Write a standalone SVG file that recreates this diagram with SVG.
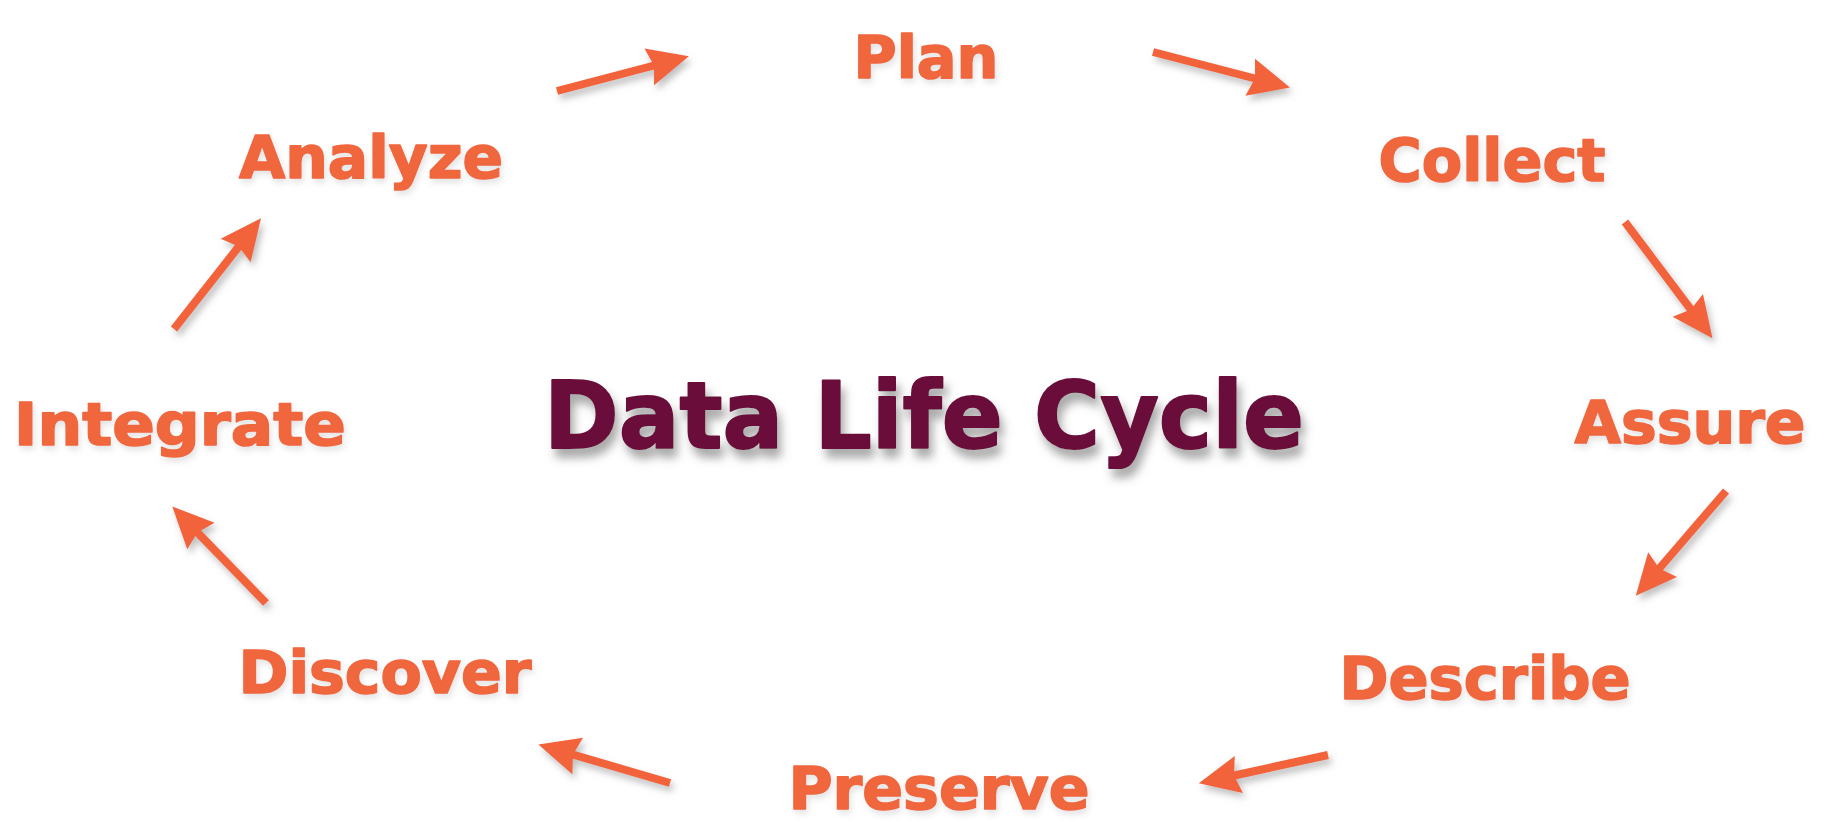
<svg xmlns="http://www.w3.org/2000/svg" width="1826" height="822" viewBox="0 0 1826 822">
  <style>
    .lbl { font-family: "DejaVu Sans", Verdana, sans-serif; font-weight: bold; font-size: 58px; fill: #f0663c; stroke: #f0663c; stroke-width: 1.6; stroke-linejoin: round; text-anchor: middle; }
    .title { font-family: "DejaVu Sans", Verdana, sans-serif; font-weight: bold; font-size: 92px; fill: #6a0b3a; stroke: #6a0b3a; stroke-width: 2; stroke-linejoin: round; text-anchor: middle; }
    .arr { stroke: #f2623a; stroke-width: 8; fill: none; marker-end: url(#head); }
  </style>
  <defs>
    <marker id="head" markerUnits="userSpaceOnUse" orient="auto" refX="0" refY="0" markerWidth="60" markerHeight="60" overflow="visible">
      <path d="M34,0 L-7,-19 L-2,0 L-7,19 Z" fill="#f2623a"/>
    </marker>
    <filter id="shadow" x="-20%" y="-20%" width="140%" height="160%">
      <feDropShadow dx="3" dy="5" stdDeviation="3.5" flood-color="#808080" flood-opacity="0.5"/>
    </filter>
    <filter id="tshadow" x="-10%" y="-20%" width="120%" height="160%">
      <feDropShadow dx="4" dy="9" stdDeviation="5" flood-color="#707070" flood-opacity="0.6"/>
    </filter>
    <filter id="lshadow" x="-10%" y="-20%" width="120%" height="160%">
      <feDropShadow dx="2" dy="4" stdDeviation="3" flood-color="#b0b0b0" flood-opacity="0.35"/>
    </filter>
  </defs>
  <rect width="1826" height="822" fill="#ffffff"/>
  <g id="title" filter="url(#tshadow)">
    <text class="title" x="924" y="448" textLength="760" lengthAdjust="spacingAndGlyphs">Data Life Cycle</text>
  </g>
  <g id="plan" filter="url(#lshadow)"><text class="lbl" x="926" y="78" textLength="145" lengthAdjust="spacingAndGlyphs">Plan</text></g>
  <g id="collect" filter="url(#lshadow)"><text class="lbl" x="1492" y="181" textLength="227" lengthAdjust="spacingAndGlyphs">Collect</text></g>
  <g id="assure" filter="url(#lshadow)"><text class="lbl" x="1690" y="443" textLength="231" lengthAdjust="spacingAndGlyphs">Assure</text></g>
  <g id="describe" filter="url(#lshadow)"><text class="lbl" x="1485" y="699" textLength="291" lengthAdjust="spacingAndGlyphs">Describe</text></g>
  <g id="preserve" filter="url(#lshadow)"><text class="lbl" x="939" y="809" textLength="301" lengthAdjust="spacingAndGlyphs">Preserve</text></g>
  <g id="discover" filter="url(#lshadow)"><text class="lbl" x="385" y="693" textLength="293" lengthAdjust="spacingAndGlyphs">Discover</text></g>
  <g id="integrate" filter="url(#lshadow)"><text class="lbl" x="180" y="445" textLength="332" lengthAdjust="spacingAndGlyphs">Integrate</text></g>
  <g id="analyze" filter="url(#lshadow)"><text class="lbl" x="371" y="178" textLength="264" lengthAdjust="spacingAndGlyphs">Analyze</text></g>
  <g id="connectors" filter="url(#shadow)">
    <line class="arr" x1="557" y1="91" x2="656" y2="65"/>
    <line class="arr" x1="1153" y1="52" x2="1257" y2="79"/>
    <line class="arr" x1="1625" y1="222" x2="1692" y2="311"/>
    <line class="arr" x1="1726" y1="491" x2="1658" y2="570"/>
    <line class="arr" x1="1328" y1="755" x2="1232" y2="776"/>
    <line class="arr" x1="670" y1="783" x2="571" y2="754"/>
    <line class="arr" x1="266" y1="603" x2="196" y2="531"/>
    <line class="arr" x1="174" y1="329" x2="240" y2="245"/>
  </g>
</svg>
